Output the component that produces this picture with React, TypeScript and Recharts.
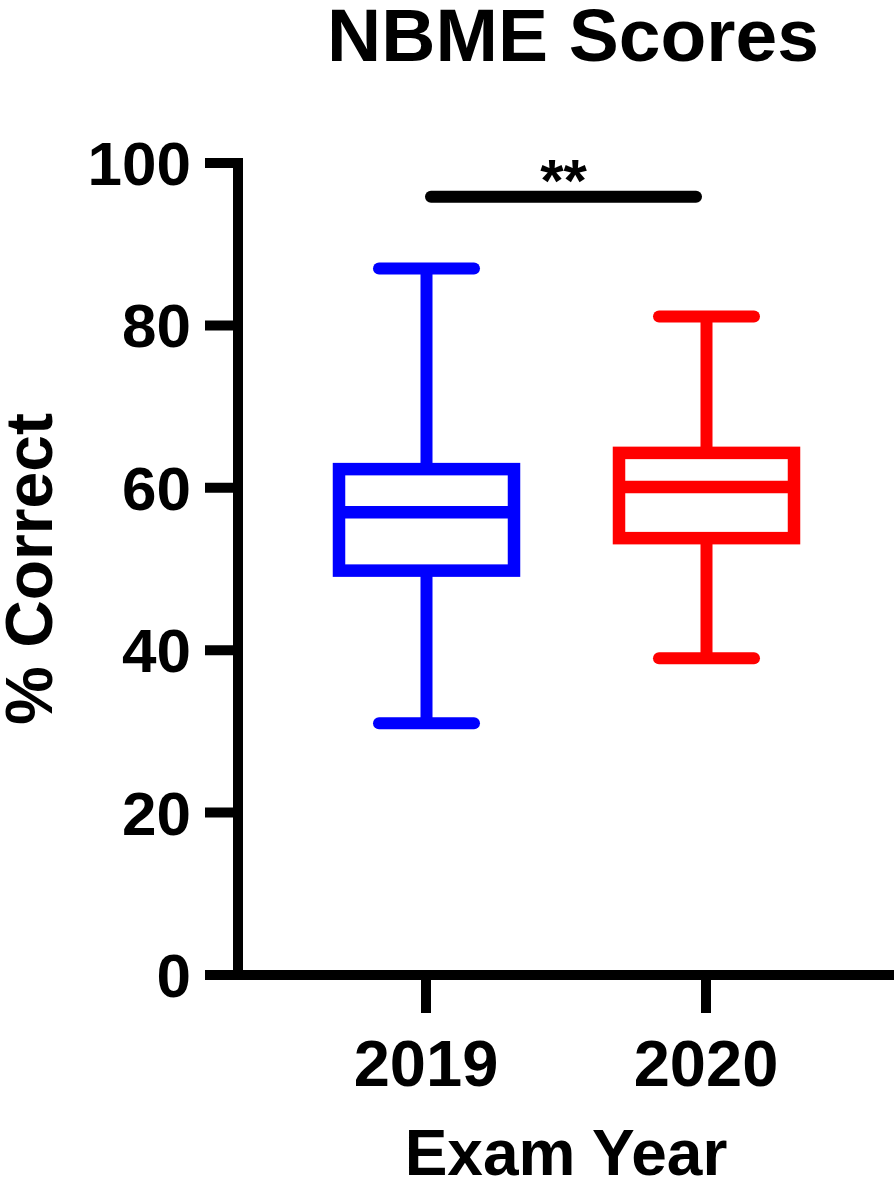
import React from 'react'
import { Bar, ComposedChart, ReferenceLine, XAxis, YAxis } from 'recharts'

const years = ['2019', '2020']
const minimums = [31, 39]
const lowerQuartiles = [49.8, 53.8]
const medians = [57, 60.1]
const upperQuartiles = [62.3, 64.3]
const maximums = [87, 81.1]
const yTicks = [0, 20, 40, 60, 80, 100]
const significanceY = 95.85
const significanceLabel = '**'

const boxColors = ['#0000ff', '#ff0000']
const FONT = '"Liberation Sans", Arial, Helvetica, sans-serif'

const data = years.map((year, i) => ({
  year,
  min: minimums[i],
  q1: lowerQuartiles[i],
  median: medians[i],
  q3: upperQuartiles[i],
  max: maximums[i],
  color: boxColors[i]
}))

// box + whiskers, scaled from the bar the library placed for [q1, q3]
function BoxShape(props: any) {
  const { x, y, width, height, payload } = props
  const top = Math.min(y, y + height)
  const h = Math.abs(height)
  const perUnit = h / (payload.q3 - payload.q1)
  const yOf = (v: number) => top + (payload.q3 - v) * perUnit
  const cx = x + width / 2
  const capHalf = 47.5
  const c = payload.color
  return (
    <g>
      <line x1={cx} x2={cx} y1={yOf(payload.max)} y2={top} stroke={c} strokeWidth={12} />
      <line x1={cx} x2={cx} y1={top + h} y2={yOf(payload.min)} stroke={c} strokeWidth={12} />
      <line
        x1={cx - capHalf}
        x2={cx + capHalf}
        y1={yOf(payload.max)}
        y2={yOf(payload.max)}
        stroke={c}
        strokeWidth={12}
        strokeLinecap="round"
      />
      <line
        x1={cx - capHalf}
        x2={cx + capHalf}
        y1={yOf(payload.min)}
        y2={yOf(payload.min)}
        stroke={c}
        strokeWidth={12}
        strokeLinecap="round"
      />
      <rect x={x} y={top} width={width} height={h} fill="#fff" stroke={c} strokeWidth={12.5} />
      <line
        x1={x}
        x2={x + width}
        y1={yOf(payload.median)}
        y2={yOf(payload.median)}
        stroke={c}
        strokeWidth={12.5}
      />
    </g>
  )
}

function SignificanceShape(props: any) {
  const { x1, y1, x2 } = props
  const a = x1 + 5
  const b = x2 - 10
  return (
    <g>
      <line x1={a} x2={b} y1={y1} y2={y1} stroke="#000" strokeWidth={12} strokeLinecap="round" />
      <text
        x={(a + b) / 2}
        y={y1 + 4.5}
        textAnchor="middle"
        fontFamily={FONT}
        fontWeight={700}
        fontSize={60}
        fill="#000"
      >
        {significanceLabel}
      </text>
    </g>
  )
}

function XLabel(props: any) {
  const vb = props.viewBox || { x: 238, y: 975, width: 656, height: 202 }
  return (
    <text
      x={vb.x + vb.width / 2}
      y={vb.y + vb.height - 2}
      textAnchor="middle"
      fontFamily={FONT}
      fontWeight={700}
      fontSize={64}
      fill="#000"
    >
      Exam Year
    </text>
  )
}

function YLabel(props: any) {
  const vb = props.viewBox || { x: 0, y: 163, width: 238, height: 812 }
  const x = vb.x + 52
  const y = vb.y + vb.height / 2
  return (
    <text
      x={x}
      y={y}
      transform={`rotate(-90, ${x}, ${y})`}
      textAnchor="middle"
      fontFamily={FONT}
      fontWeight={700}
      fontSize={66}
      fill="#000"
    >
      % Correct
    </text>
  )
}

export default function App() {
  return (
    <div style={{ position: 'absolute', left: 0, top: 0, width: 894, height: 1177, background: '#fff' }}>
      <svg
        width={894}
        height={90}
        style={{ position: 'absolute', left: 0, top: 0, pointerEvents: 'none' }}
      >
        <text
          x={573}
          y={61}
          textAnchor="middle"
          fontFamily={FONT}
          fontWeight={700}
          fontSize={75}
          fill="#000"
        >
          NBME Scores
        </text>
      </svg>
      <ComposedChart
        width={894}
        height={1177}
        data={data}
        margin={{ top: 163, right: 0, bottom: 0, left: 0 }}
        style={{ fontFamily: FONT }}
      >
        <XAxis
          dataKey="year"
          type="category"
          height={202}
          padding={{ left: 48, right: 48 }}
          interval={0}
          axisLine={{ stroke: '#000', strokeWidth: 10, strokeLinecap: 'square' }}
          tickLine={{ stroke: '#000', strokeWidth: 10 }}
          tickSize={38}
          tickMargin={27}
          tick={{ fill: '#000', fontSize: 65, fontWeight: 700, fontFamily: FONT }}
          label={{ content: XLabel }}
        />
        <YAxis
          type="number"
          domain={[0, 100]}
          ticks={yTicks}
          interval={0}
          width={238}
          axisLine={{ stroke: '#000', strokeWidth: 10, strokeLinecap: 'square' }}
          tickLine={{ stroke: '#000', strokeWidth: 10 }}
          tickSize={33}
          tickMargin={14}
          tick={{ fill: '#000', fontSize: 62, fontWeight: 700, fontFamily: FONT }}
          label={{ content: YLabel }}
        />
        <ReferenceLine
          segment={[
            { x: years[0], y: significanceY },
            { x: years[1], y: significanceY }
          ]}
          shape={SignificanceShape}
        />
        <Bar
          dataKey={(d: any) => [d.q1, d.q3]}
          barSize={175}
          shape={BoxShape}
          isAnimationActive={false}
        />
      </ComposedChart>
    </div>
  )
}
